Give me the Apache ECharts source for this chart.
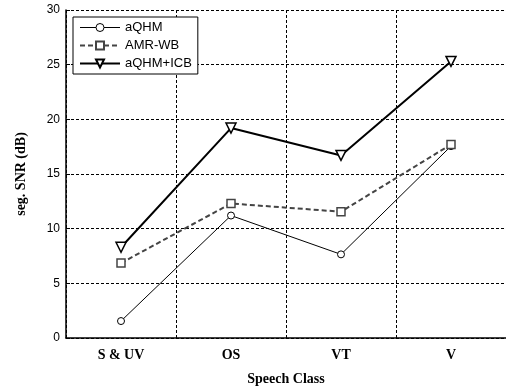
<!DOCTYPE html>
<html lang="en">
<head>
    <meta charset="UTF-8">
    <title>echarts</title>
    <script src="https://cdn.jsdelivr.net/npm/echarts@6/dist/echarts.min.js"></script>
    <style>
        html, body { margin: 0; padding: 0; background: #fff; }
        #myChart { width: 506px; height: 391px; }
    </style>
</head>
<body>
<div id="myChart"></div>
<script type="text/javascript">
    var categories = ["S & UV", "OS", "VT", "V"];
    var aqhm = [1.55, 11.2, 7.65, 17.55];
    var amrwb = [6.85, 12.3, 11.55, 17.7];
    var aqhmIcb = [8.3, 19.2, 16.7, 25.3];

    var myChart = echarts.init(document.getElementById('myChart'));
    var option = {
        animation: false,
        grid: {left: 66, right: -3, top: 10, bottom: 48},
        legend: {
            left: 73, top: 17,
            orient: 'vertical',
            backgroundColor: '#fff',
            borderColor: '#000',
            borderWidth: 1,
            borderRadius: 0,
            padding: [4, 6, 4, 6],
            itemGap: 5,
            itemWidth: 40,
            itemHeight: 10,
            textStyle: {fontFamily: 'Liberation Sans', fontSize: 13, color: '#000'},
            data: [
                {name: 'aQHM', lineStyle: {width: 1}, itemStyle: {borderWidth: 1}},
                {name: 'AMR-WB'},
                {name: 'aQHM+ICB'}
            ]
        },
        xAxis: {
            type: 'category',
            data: categories,
            name: 'Speech Class',
            nameLocation: 'middle',
            nameGap: 34,
            nameTextStyle: {fontFamily: 'Liberation Serif', fontWeight: 'bold', fontSize: 14, color: '#000'},
            axisLine: {lineStyle: {color: '#000', width: 1.5}},
            axisTick: {inside: true, length: 4, lineStyle: {color: '#000'}},
            axisLabel: {fontFamily: 'Liberation Serif', fontWeight: 'bold', fontSize: 14, color: '#000', margin: 10},
            splitLine: {show: true, lineStyle: {color: '#000', type: [3, 2], width: 1}}
        },
        yAxis: {
            type: 'value',
            min: 0, max: 30, interval: 5,
            name: 'seg. SNR (dB)',
            nameLocation: 'middle',
            nameGap: 38,
            nameTextStyle: {fontFamily: 'Liberation Serif', fontWeight: 'bold', fontSize: 14, color: '#000'},
            axisLine: {show: true, lineStyle: {color: '#000', width: 1.5}},
            axisTick: {show: true, inside: true, length: 4, lineStyle: {color: '#000'}},
            axisLabel: {fontFamily: 'Liberation Sans', fontSize: 12, color: '#000', margin: 6},
            splitLine: {show: true, lineStyle: {color: '#000', type: [3, 2], width: 1}}
        },
        series: [
            {
                name: 'aQHM', type: 'line', data: aqhm,
                symbol: 'circle', symbolSize: 7,
                lineStyle: {color: '#000', width: 1},
                itemStyle: {color: '#fff', borderColor: '#000', borderWidth: 1}
            },
            {
                name: 'AMR-WB', type: 'line', data: amrwb,
                symbol: 'rect', symbolSize: 8,
                lineStyle: {color: '#444', width: 2, type: [5, 3]},
                itemStyle: {color: '#fff', borderColor: '#444', borderWidth: 1.5}
            },
            {
                name: 'aQHM+ICB', type: 'line', data: aqhmIcb, z: 3,
                symbol: 'triangle', symbolRotate: 180, symbolSize: 10,
                lineStyle: {color: '#000', width: 2},
                itemStyle: {color: '#fff', borderColor: '#000', borderWidth: 1.5}
            }
        ]
    };
    myChart.setOption(option);
</script>
</body>
</html>
